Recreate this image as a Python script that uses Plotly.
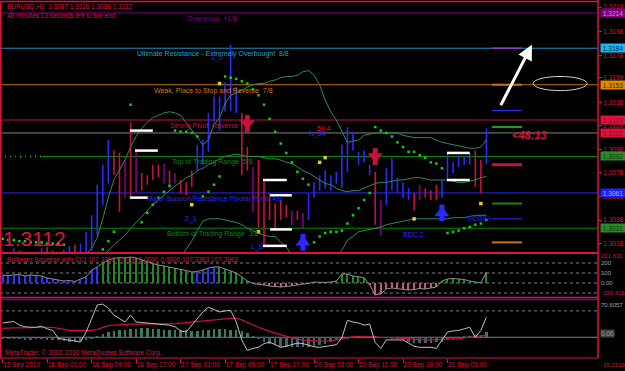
import plotly.graph_objects as go

# ---------------- data ----------------
time_ticks = [0, 8, 16, 24, 32, 40, 48, 56, 64, 72, 80]
time_labels = ["15 Sep 2010", "16 Sep 01:00", "16 Sep 09:00", "16 Sep 17:00", "17 Sep 01:00",
               "17 Sep 09:00", "17 Sep 17:00", "20 Sep 03:00", "20 Sep 11:00", "20 Sep 19:00",
               "21 Sep 03:00"]

high = [1.3012,1.3011,1.3014,1.3012,1.3009,1.3007,1.3011,1.3014,1.3015,1.3012,
        1.3011,1.3013,1.3016,1.3017,1.3018,1.3028,1.3042,1.3068,1.3085,1.3106,
        1.3097,1.3095,1.3089,1.3121,1.3097,1.3078,1.3076,1.3085,1.3085,1.3086,
        1.3080,1.3078,1.3072,1.3070,1.3080,1.3102,1.3106,1.3129,1.3143,1.3143,
        1.3155,1.3187,1.3151,1.3129,1.3100,1.3083,1.3089,1.3072,1.3061,1.3052,
        1.3055,1.3051,1.3046,1.3046,1.3044,1.3061,1.3070,1.3076,1.3080,1.3076,
        1.3079,1.3102,1.3117,1.3113,1.3096,1.3097,1.3085,1.3079,1.3055,1.3082,
        1.3091,1.3074,1.3070,1.3065,1.3061,1.3068,1.3065,1.3063,1.3068,1.3072,
        1.3095,1.3087,1.3093,1.3092,1.3095,1.3097,1.3089,1.3116]
low = [1.2995,1.2994,1.2999,1.2997,1.2991,1.2994,1.2995,1.2999,1.3002,1.2997,
       1.2995,1.2999,1.3002,1.3004,1.3006,1.3008,1.3012,1.3025,1.3051,1.3069,
       1.3076,1.3045,1.3057,1.3057,1.3061,1.3063,1.3068,1.3072,1.3074,1.3069,
       1.3068,1.3069,1.3061,1.3059,1.3066,1.3080,1.3085,1.3096,1.3121,1.3114,
       1.3130,1.3131,1.3129,1.3076,1.3080,1.3045,1.3032,1.3015,1.3038,1.3029,
       1.3038,1.3040,1.3034,1.3038,1.3031,1.3038,1.3057,1.3063,1.3065,1.3063,
       1.3069,1.3065,1.3079,1.3097,1.3085,1.3087,1.3076,1.3034,1.3025,1.3051,
       1.3063,1.3061,1.3057,1.3055,1.3046,1.3055,1.3057,1.3055,1.3055,1.3057,
       1.3072,1.3078,1.3083,1.3085,1.3085,1.3066,1.3061,1.3086]
bar_kind = ("duuddpuudd" "uuuduuuuuu" "ddpdpddddp" "dpddduuuuu" "uuuddpdddd"
            "ddpdpuuuuu" "uuuuuuudpu" "uuuudpdddu" "uuuuuddu")

band_up = [1.3006,1.3006,1.3007,1.3006,1.3005,1.3004,1.3005,1.3006,1.3006,1.3006,
           1.3005,1.3005,1.3006,1.3006,1.3007,1.3009,1.3014,1.3023,1.3039,1.3057,
           1.3072,1.3080,1.3089,1.3100,1.3109,1.3116,1.3121,1.3125,1.3127,1.3129,
           1.3130,1.3129,1.3127,1.3121,1.3114,1.3108,1.3102,1.3106,1.3119,1.3125,
           1.3137,1.3144,1.3146,1.3148,1.3151,1.3153,1.3154,1.3154,1.3156,1.3157,
           1.3159,1.3160,1.3160,1.3161,1.3164,1.3165,1.3161,1.3153,1.3140,1.3130,
           1.3123,1.3113,1.3104,1.3105,1.3106,1.3110,1.3111,1.3112,1.3112,1.3112,
           1.3112,1.3112,1.3110,1.3109,1.3108,1.3108,1.3108,1.3108,1.3106,1.3104,
           1.3103,1.3102,1.3101,1.3100,1.3099,1.3099,1.3100,1.3106]
band_mid = [1.2994,1.2994,1.2995,1.2995,1.2994,1.2993,1.2993,1.2994,1.2995,1.2995,
            1.2995,1.2995,1.2995,1.2996,1.2997,1.2998,1.3000,1.3002,1.3007,1.3012,
            1.3017,1.3021,1.3025,1.3031,1.3036,1.3041,1.3046,1.3051,1.3055,1.3059,
            1.3063,1.3067,1.3070,1.3074,1.3076,1.3080,1.3082,1.3085,1.3087,1.3090,
            1.3092,1.3093,1.3094,1.3093,1.3092,1.3092,1.3092,1.3091,1.3090,1.3090,
            1.3089,1.3087,1.3086,1.3083,1.3080,1.3078,1.3075,1.3072,1.3069,1.3068,
            1.3065,1.3063,1.3062,1.3063,1.3063,1.3065,1.3067,1.3069,1.3070,1.3070,
            1.3071,1.3072,1.3072,1.3073,1.3074,1.3074,1.3073,1.3072,1.3072,1.3072,
            1.3072,1.3071,1.3070,1.3070,1.3071,1.3072,1.3074,1.3075]
band_low = [1.2982,1.2982,1.2983,1.2983,1.2982,1.2981,1.2981,1.2982,1.2983,1.2983,
            1.2984,1.2984,1.2984,1.2985,1.2986,1.2986,1.2985,1.2980,1.2975,1.2968,
            1.2962,1.2960,1.2960,1.2962,1.2963,1.2966,1.2970,1.2977,1.2985,1.2990,
            1.2996,1.3001,1.3007,1.3013,1.3020,1.3029,1.3037,1.3039,1.3039,1.3039,
            1.3038,1.3037,1.3036,1.3034,1.3031,1.3029,1.3027,1.3025,1.3024,1.3024,
            1.3019,1.3015,1.3008,1.3000,1.2991,1.2987,1.2987,1.2987,1.2991,1.3000,
            1.3008,1.3012,1.3021,1.3024,1.3028,1.3029,1.3030,1.3031,1.3032,1.3034,
            1.3035,1.3036,1.3037,1.3038,1.3039,1.3039,1.3039,1.3039,1.3039,1.3039,
            1.3039,1.3040,1.3040,1.3040,1.3041,1.3042,1.3042,1.3042]
sar = [1.3022,1.3021,1.3021,1.3020,1.3020,1.3019,1.3019,1.3019,1.3018,1.3018,
       1.3018,1.3017,1.2990,1.2992,1.2995,1.2998,1.3002,1.3007,1.3013,1.3020,
       1.3028,None,None,1.3136,None,1.3036,1.3044,1.3051,1.3057,1.3062,
       1.3067,1.3114,1.3113,1.3113,1.3112,1.3109,1.3058,1.3062,1.3068,1.3075,
       1.3160,1.3159,1.3158,1.3156,1.3154,1.3149,1.3144,1.3136,1.3124,1.3113,
       1.3103,1.3095,1.3087,1.3079,1.3073,1.3068,1.3019,1.3024,1.3027,1.3028,
       1.3028,1.3029,1.3035,1.3042,1.3048,1.3055,1.3061,1.3117,1.3114,1.3112,
       1.3109,1.3104,1.3100,1.3096,1.3096,1.3093,1.3091,1.3087,1.3086,1.3082,
       1.3027,1.3028,1.3029,1.3031,1.3032,1.3034,1.3035,1.3038]

fractal_idx = [34, 39, 46, 54, 57, 58, 74, 86]
fractal_px = [1.3051, 1.3154, 1.3028, 1.3023, 1.3087, 1.3091, 1.3039, 1.3052]
dn_arrow_idx = [44, 67]
dn_arrow_px = [1.3120, 1.3092]
up_arrow_idx = [54, 79]
up_arrow_px = [1.3019, 1.3044]

# white support/resistance dashes: start bar, end bar, price
sr_start = [22.9, 23.8, 22.9, 46.8, 48.1, 48.1, 46.8, 79.9, 79.9]
sr_end = [27.0, 27.9, 26.1, 51.1, 52.0, 52.0, 51.1, 84.0, 84.0]
sr_price = [1.3114, 1.3097, 1.3057, 1.3072, 1.3059, 1.3030, 1.3016, 1.3095, 1.3072]

# Murrey math levels
mm_levels = [1.3214, 1.3184, 1.3153, 1.3123, 1.3092, 1.3061, 1.3031]
mm_names = ["Overshoot  +1/8", "Ultimate Resistance - Extremely Overbought  8/8",
            "Weak, Place to Stop and Reverse  7/8", "Strong Pivot, Reverse",
            "Top of Trading Range  5/8", "Major Support/Resistance Pivotal Point  4/8",
            "Bottom of Trading Range  3/8"]
mm_text_x = [32.8, 23.8, 26.9, 29.7, 30.1, 25.6, 29.2]
mm_line_x0 = [0, 0, 0, 0, 0.07, 0, 0]
mm_colors = ["#800080", "#1f8fc0", "#c06a10", "#c8103c", "#0a8a0a", "#2828ff", "#0a8a0a"]
mm_text_colors = ["#800080", "#20a0d0", "#d07818", "#c8103c", "#0a8a0a", "#2828ff", "#0a8a0a"]
mm_label_bg = ["#800080", "#18b8f0", "#e08a00", "#dc143c", "#2a8a2a", "#2020ff", "#2a8a2a"]
mm_label_fg = ["#e080e0", "#002040", "#402000", "#a00020", "#0a3a0a", "#b0b0ff", "#0a3a0a"]

bid = 1.3112
price_ticks = [1.3219, 1.3198, 1.3178, 1.3159, 1.3138, 1.3118, 1.3098, 1.3078, 1.3058, 1.3038, 1.3018]

# pivot dashes on the right
piv_levels = [1.3184, 1.3153, 1.3131, 1.3117, 1.3085, 1.3052, 1.3039, 1.3019]
piv_colors = ["#9040c0", "#d07010", "#3030ff", "#20a020", "#c8103c", "#208020", "#3030ff", "#d07010"]
piv_widths = [1.5, 2, 1, 2, 3, 2, 1, 2]
piv_x0, piv_x1 = 88.0, 93.4

# Bollinger squeeze with CCI
cci = [80,75,80,85,70,80,75,70,50,40,
       30,20,25,15,40,60,130,160,200,230,
       245,255,250,260,250,230,210,195,180,170,
       160,150,140,125,110,115,130,150,160,160,
       140,120,100,60,20,-5,-10,-20,-30,-35,
       -40,-35,-30,-20,-10,-5,10,5,5,10,
       20,90,90,70,60,55,-20,-120,-110,-60,
       -50,-55,-60,-70,-65,-55,-60,-50,-40,20,
       40,45,40,35,20,10,0,107]
cci_state = "b" * 18 + "g" * 17 + "b" * 4 + "g" * 6 + "r" * 11 + "g" * 10 + "r" * 13 + "g" * 9
cci_levels = [200, 100, 0, -100]

# lower oscillator
osc_fast = [27,28,30,23,20,19,19,21,16,13,
            -2,-4,-5,-7,-9,10,35,61,63,55,
            42,35,29,42,29,28,27,27,26,25,
            23,20,12,10,23,35,48,57,52,48,
            50,51,29,-5,-25,-21,-19,-12,-9,-14,
            -19,-17,-14,-11,-12,-15,-18,-19,-17,-15,
            -14,-1,32,29,27,23,25,-10,-21,-5,
            -5,-5,-5,-11,-17,-19,-19,-19,-21,-5,
            10,12,13,16,19,0,13,38]
osc_slow = [17,18,18,18,18,19,19,19,19,19,
            17,15,13,13,13,13,13,15,19,22,
            23,24,24,25,25,25,25,25,25,25,
            25,26,27,28,29,30,31,33,34,35,
            36,36,36,33,28,23,19,15,11,8,
            5,2,-1,-4,-5,-6,-7,-7,-7,-7,
            -5,-3,0,1,2,2,2,1,0,0,
            -1,-1,-2,-3,-4,-5,-5,-5,-5,-4,
            -3,-3,-3,-1,0,1,2,4]
osc_hist = [-3,-3,-4,-4,-5,-5,-4,-4,-5,-6,
            -6,-7,-8,-8,-7,-5,-2,2,6,10,
            12,13,14,15,16,17,17,16,15,14,
            14,13,13,13,12,12,13,14,15,15,
            15,14,13,12,8,2,-4,-8,-12,-15,
            -18,-19,-19,-19,-19,-18,-17,-15,-12,-9,
            -6,-4,-2,0,2,3,2,1,0,-1,
            -2,-4,-6,-8,-10,-11,-11,-10,-9,-8,
            -6,-3,0,2,3,4,5,10]
osc_level = 50

# ---------------- styling ----------------
W, H = 625, 371
CR = "#dc143c"
BLUE = "#2a2aff"
PURP = "#800080"
GREEN_BAND = "#2e8b57"
FONT = "Liberation Sans"

def py(pix):
    return (H - pix) / H

n = len(high)
X = list(range(n))
fig = go.Figure()

for k, col in (("u", BLUE), ("d", "#c8103c"), ("p", PURP)):
    xs, ys = [], []
    for i in X:
        if bar_kind[i] == k:
            xs += [i, i, None]
            ys += [low[i], high[i], None]
    fig.add_trace(go.Scatter(x=xs, y=ys, mode="lines", line=dict(color=col, width=1.6),
                             yaxis="y", hoverinfo="skip"))

for band in (band_up, band_mid, band_low):
    fig.add_trace(go.Scatter(x=X, y=band, mode="lines", line=dict(color=GREEN_BAND, width=1),
                             yaxis="y", hoverinfo="skip"))

fig.add_trace(go.Scatter(x=X, y=sar, mode="markers", yaxis="y",
                         marker=dict(symbol="square", size=2.5, color="#10d010")))
fig.add_trace(go.Scatter(x=fractal_idx, y=fractal_px, mode="markers", yaxis="y",
                         marker=dict(symbol="square", size=3.5, color="#e0d020")))

xs, ys = [], []
for a, b, p in zip(sr_start, sr_end, sr_price):
    xs += [a, b, None]
    ys += [p, p, None]
fig.add_trace(go.Scatter(x=xs, y=ys, mode="lines", line=dict(color="white", width=2.5), yaxis="y"))

for p, c, w in zip(piv_levels, piv_colors, piv_widths):
    fig.add_trace(go.Scatter(x=[piv_x0, piv_x1], y=[p, p], mode="lines",
                             line=dict(color=c, width=w), yaxis="y"))

# signal arrows: head + stem
for ix, pv, col, head in ((dn_arrow_idx, dn_arrow_px, "#c8103c", "triangle-down"),
                          (up_arrow_idx, up_arrow_px, BLUE, "triangle-up")):
    fig.add_trace(go.Scatter(x=ix, y=pv, mode="markers", yaxis="y",
                             marker=dict(symbol="line-ns", size=12, color=col,
                                         line=dict(color=col, width=5))))
    fig.add_trace(go.Scatter(x=ix, y=pv, mode="markers", yaxis="y",
                             marker=dict(symbol=head, size=13, color=col,
                                         line=dict(width=0)),
                             ))

# CCI panel
cmap = {"b": "#3030ff", "g": "#1c8c1c", "r": "#d05070"}
fig.add_trace(go.Bar(x=X, y=cci, width=0.22, yaxis="y2",
                     marker=dict(color=[cmap[s] for s in cci_state], line=dict(width=0))))
fig.add_trace(go.Scatter(x=X, y=cci, mode="lines", yaxis="y2", line=dict(color="#909090", width=1)))

# oscillator panel
fig.add_trace(go.Bar(x=X, y=osc_hist, width=0.45, yaxis="y3",
                     marker=dict(color=["#3a7a5e" if v >= 0 else "#40606a" for v in osc_hist],
                                 line=dict(width=0))))
fig.add_trace(go.Scatter(x=X, y=osc_slow, mode="lines", yaxis="y3", line=dict(color="#c8103c", width=1.2)))
fig.add_trace(go.Scatter(x=X, y=osc_fast, mode="lines", yaxis="y3", line=dict(color="#c0c0c0", width=1)))

shapes = []
for lv, c, x0 in zip(mm_levels, mm_colors, mm_line_x0):
    shapes.append(dict(type="line", xref="paper", x0=x0, x1=1, yref="y", y0=lv, y1=lv,
                       line=dict(color=c, width=1), layer="below"))
    if x0 > 0:
        shapes.append(dict(type="line", xref="paper", x0=0, x1=x0, yref="y", y0=lv, y1=lv,
                           line=dict(color="#10c010", width=1.5, dash="1px,4px"), layer="below"))
shapes.append(dict(type="line", xref="paper", x0=0, x1=1, yref="y", y0=bid, y1=bid,
                   line=dict(color="#808080", width=1), layer="below"))
for lv in cci_levels:
    shapes.append(dict(type="line", xref="paper", x0=0, x1=1, yref="y2", y0=lv, y1=lv,
                       line=dict(color="#808080", width=1, dash="3px,3px"), layer="below"))
shapes.append(dict(type="line", xref="paper", x0=0, x1=1, yref="y3", y0=0, y1=0,
                   line=dict(color="#808080", width=1), layer="below"))
shapes.append(dict(type="line", xref="paper", x0=0, x1=1, yref="y3", y0=osc_level, y1=osc_level,
                   line=dict(color="#808080", width=1, dash="3px,3px"), layer="below"))
for pix, col, w in ((1.5, CR, 1.5), (253, CR, 2), (297.5, CR, 1.5), (299.5, PURP, 1.5), (358, CR, 1)):
    shapes.append(dict(type="line", xref="paper", yref="paper", x0=0, x1=1, y0=py(pix), y1=py(pix),
                       line=dict(color=col, width=w)))
shapes.append(dict(type="line", xref="paper", yref="paper", x0=0.001, x1=0.001, y0=py(358), y1=py(1),
                   line=dict(color=CR, width=1.5)))
shapes.append(dict(type="line", xref="paper", yref="paper", x0=1, x1=1, y0=py(358), y1=py(0),
                   line=dict(color=CR, width=1.5)))
shapes.append(dict(type="circle", xref="x", yref="y", x0=95.4, x1=105.1, y0=1.3148, y1=1.3160,
                   line=dict(color="#d0d0d0", width=1)))

ann = []
def txt(x, y, s, color, size=7, xref="x", yref="y", xanchor="left", yanchor="middle", **kw):
    ann.append(dict(x=x, y=y, xref=xref, yref=yref, text=s, showarrow=False, xanchor=xanchor,
                    yanchor=yanchor, font=dict(family=FONT, size=size, color=color), **kw))

for lv, name, tx, tc in zip(mm_levels, mm_names, mm_text_x, mm_text_colors):
    txt(tx, lv, name, tc, yanchor="top")
for lv, bg, fg in zip(mm_levels, mm_label_bg, mm_label_fg):
    ann.append(dict(x=1, xref="paper", y=lv, yref="y", text=f"{lv:.4f}", showarrow=False,
                    xanchor="left", xshift=2, bgcolor=bg, borderpad=0, width=24, height=8,
                    font=dict(family=FONT, size=6.5, color=fg)))
ann.append(dict(x=1, xref="paper", y=bid, yref="y", text=f"{bid:.4f}", showarrow=False,
                xanchor="left", xshift=2, bgcolor=CR, borderpad=0, width=24, height=8,
                font=dict(family=FONT, size=6.5, color="#a00020")))

txt(5 / 598, py(7), "EURUSD,H1  1.3087 1.3116 1.3086 1.3112", CR, size=6.5, xref="paper", yref="paper")
txt(5 / 598, py(15), "48 minutes 13 seconds left to bar end", CR, size=6.5, xref="paper", yref="paper")
txt(1 / 598, py(238), "1.3112", CR, size=21, xref="paper", yref="paper")
txt(91.2, 1.3110, "<b><i>&lt;48:13</i></b>", CR, size=11)
txt(5 / 598, py(260), "Bollinger Squeeze with CCI 107.3363 0.0000 0.0000 0.0000 107.3363 107.3363", CR,
    size=6.5, xref="paper", yref="paper")
txt(3 / 598, py(353), "MetaTrader, © 2001-2010 MetaQuotes Software Corp.", CR, size=6.5,
    xref="paper", yref="paper")

for x, y, s, c in ((38.6, 1.3176, "1_5", BLUE), (33.9, 1.3039, "2_1", BLUE), (45.9, 1.3015, "L_E", BLUE),
                   (56.7, 1.3111, "N_54", BLUE), (57.8, 1.3116, "59.4", CR), (73.8, 1.3026, "EDC.2", BLUE),
                   (85.8, 1.3039, "FCGS+", BLUE)):
    txt(x, y, s, c, xanchor="center")

for y, s, c in ((256, "221.631", CR), (262.7, "200", "#a0a0a0"), (273, "100", "#a0a0a0"),
                (283, "0.00", "#a0a0a0"), (293, "-190.415", CR), (305, "70.6057", "#b0a0a0"),
                (365, "-39.2319", CR)):
    txt(1, py(y), s, c, size=6, xref="paper", yref="paper", xshift=1)
ann.append(dict(x=1, xref="paper", y=py(338), yref="paper", text="0.00", showarrow=False,
                xanchor="left", xshift=2, bgcolor="#404040", borderpad=0,
                font=dict(family=FONT, size=6.5, color="#a0a0a0")))

ann.append(dict(x=95.2, y=1.3187, xref="x", yref="y", ax=-32, ay=62, text="", showarrow=True,
                arrowhead=2, arrowsize=1, arrowwidth=3, arrowcolor="white"))

fig.update_layout(
    width=W, height=H, margin=dict(l=0, r=27, t=0, b=0, autoexpand=False),
    paper_bgcolor="black", plot_bgcolor="black", showlegend=False, bargap=0,
    shapes=shapes, annotations=ann,
    xaxis=dict(domain=[0, 1], anchor="y3", range=[-0.486, 107.07], tickvals=time_ticks,
               ticktext=time_labels, ticks="outside", ticklen=4, tickcolor=CR, tickangle=0,
               automargin=False, ticklabelposition="outside right",
               tickfont=dict(family=FONT, size=6.5, color=CR),
               showgrid=False, zeroline=False, showline=False),
    yaxis=dict(domain=[py(252), py(2)], range=[1.30108, 1.32233], side="right", anchor="x",
               tickvals=price_ticks, ticktext=[f"{t:.4f}" for t in price_ticks], automargin=False,
               ticks="outside", ticklen=3, tickcolor=CR, tickfont=dict(family=FONT, size=6.5, color=CR),
               showgrid=False, zeroline=False),
    yaxis2=dict(domain=[py(297), py(254)], range=[-140, 290], side="right", anchor="x",
                automargin=False, showticklabels=False, showgrid=False, zeroline=False),
    yaxis3=dict(domain=[py(358), py(300)], range=[-39.23, 70.61], side="right", anchor="x",
                automargin=False, showticklabels=False, showgrid=False, zeroline=False),
)
fig.write_html("out.html")
